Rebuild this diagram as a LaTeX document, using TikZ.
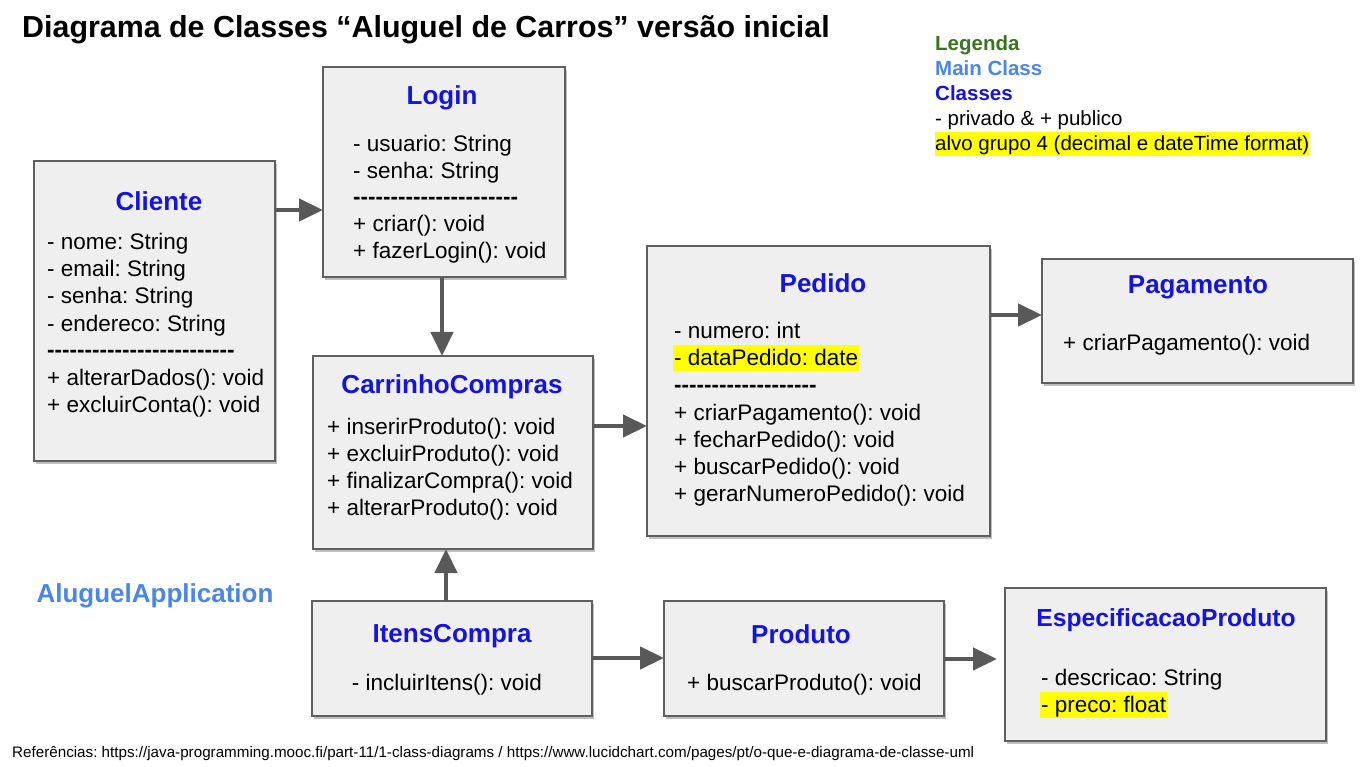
\documentclass[tikz,border=0pt]{standalone}
\usepackage{fontspec}
\setmainfont{Liberation Sans}[Ligatures=TeXOff]
\usetikzlibrary{arrows.meta,calc,shadows}
\definecolor{clsblue}{RGB}{20,20,222}
\definecolor{mainblue}{HTML}{4A86E8}
\definecolor{leggreen}{HTML}{38761D}
\definecolor{boxfill}{HTML}{EFEFEF}
\definecolor{boxline}{HTML}{5F5F5F}
\definecolor{arrgray}{HTML}{595959}
\definecolor{hl}{HTML}{FFFF00}
\newcommand\dsh[1]{\foreach\i in {1,...,#1}{\mbox{-}}}
\frenchspacing
\begin{document}
\frenchspacing
\begin{tikzpicture}[x=1pt,y=-1pt,
  every node/.append style={execute at begin node=\frenchspacing},
  cls/.style={draw=boxline,line width=1.3pt,fill=boxfill,inner sep=0pt,outer sep=0pt,anchor=north west,
    drop shadow={shadow xshift=2pt,shadow yshift=-3pt,fill=black!45,opacity=.55}},
  ttl/.style={anchor=base,inner sep=0pt,text=clsblue,font=\fontsize{26}{30}\selectfont\bfseries},
  txt/.style={anchor=base west,inner sep=0pt,font=\fontsize{22.5}{27}\selectfont},
  hlt/.style={txt,fill=hl,text height=20pt,text depth=6pt,inner xsep=1pt},
  leg/.style={anchor=base west,inner sep=0pt,font=\fontsize{20.5}{25}\selectfont},
  arr/.style={draw=arrgray,line width=4.3pt,-{Triangle[length=24pt,width=22pt]}}]
\useasboundingbox[fill=white] (0,0) rectangle (1363,767);

% title
\node[anchor=base west,inner sep=0pt,font=\fontsize{30.4}{34}\selectfont\bfseries] (title) at (22,38)
  {Diagrama de Classes “Aluguel de Carros” versão inicial};

% legend
\node[leg,text=leggreen,font=\fontsize{20.5}{25}\selectfont\bfseries] (lg1) at (935,51) {Legenda};
\node[leg,text=mainblue,font=\fontsize{20.5}{25}\selectfont\bfseries] (lg2) at (935,76) {Main Class};
\node[leg,text=clsblue,font=\fontsize{20.5}{25}\selectfont\bfseries] (lg3) at (935,101) {Classes};
\node[leg] (lg4) at (935,126) {- privado \& + publico};
\node[leg,fill=hl,text height=19pt,text depth=5pt] (lg5) at (935,151) {alvo grupo 4 (decimal e dateTime format)};

% boxes
\node[cls,minimum width=241pt,minimum height=300pt] (cli) at (34,161) {};
\node[cls,minimum width=242pt,minimum height=210pt] (log) at (323,67) {};
\node[cls,minimum width=280pt,minimum height=193pt] (car) at (313,356) {};
\node[cls,minimum width=343pt,minimum height=290pt] (ped) at (647,246) {};
\node[cls,minimum width=311pt,minimum height=124pt] (pag) at (1042,259) {};
\node[cls,minimum width=280pt,minimum height=115pt] (ite) at (312,601) {};
\node[cls,minimum width=280pt,minimum height=115pt] (pro) at (664,601) {};
\node[cls,minimum width=321pt,minimum height=153pt] (esp) at (1005,588) {};

% Cliente
\node[ttl] (cliT) at (159,211) {Cliente};
\node[txt] (cli1) at (47,250) {- nome: String};
\node[txt] (cli2) at (47,277) {- email: String};
\node[txt] (cli3) at (47,304) {- senha: String};
\node[txt] (cli4) at (47,331) {- endereco: String};
\node[txt] (cli5) at (47,358) {\bfseries\dsh{25}};
\node[txt] (cli6) at (47,385) {+ alterarDados(): void};
\node[txt] (cli7) at (47,412) {+ excluirConta(): void};

% Login
\node[ttl] (logT) at (442,105) {Login};
\node[txt] (log1) at (353,152) {- usuario: String};
\node[txt] (log2) at (353,179) {- senha: String};
\node[txt] (log3) at (353,205) {\bfseries\dsh{22}};
\node[txt] (log4) at (353,232) {+ criar(): void};
\node[txt] (log5) at (353,259) {+ fazerLogin(): void};

% CarrinhoCompras
\node[ttl] (carT) at (452,393) {CarrinhoCompras};
\node[txt] (car1) at (327,434) {+ inserirProduto(): void};
\node[txt] (car2) at (327,461) {+ excluirProduto(): void};
\node[txt] (car3) at (327,488) {+ finalizarCompra(): void};
\node[txt] (car4) at (327,515) {+ alterarProduto(): void};

% Pedido
\node[ttl] (pedT) at (823,293) {Pedido};
\node[txt] (ped1) at (674,338) {- numero: int};
\node[hlt] (ped2) at (673,365) {- dataPedido: date};
\node[txt] (ped3) at (674,392) {\bfseries\dsh{19}};
\node[txt] (ped4) at (674,420) {+ criarPagamento(): void};
\node[txt] (ped5) at (674,447) {+ fecharPedido(): void};
\node[txt] (ped6) at (674,474) {+ buscarPedido(): void};
\node[txt] (ped7) at (674,501) {+ gerarNumeroPedido(): void};

% Pagamento
\node[ttl] (pagT) at (1198,294) {Pagamento};
\node[txt] (pag1) at (1063,350) {+ criarPagamento(): void};

% ItensCompra
\node[ttl] (iteT) at (452,642) {ItensCompra};
\node[txt,anchor=base] (ite1) at (447,690) {- incluirItens(): void};

% Produto
\node[ttl] (proT) at (801,643) {Produto};
\node[txt] (pro1) at (687,690) {+ buscarProduto(): void};

% EspecificacaoProduto
\node[ttl,font=\fontsize{24.7}{29}\selectfont\bfseries] (espT) at (1166,626) {EspecificacaoProduto};
\node[txt] (esp1) at (1041,685) {- descricao: String};
\node[hlt] (esp2) at (1040,712) {- preco: float};

% main class label
\node[anchor=base,inner sep=0pt,text=mainblue,font=\fontsize{26}{30}\selectfont\bfseries] (app) at (155,602) {AluguelApplication};

% footer
\node[anchor=base west,inner sep=0pt,font=\fontsize{15.2}{17}\selectfont] (ref) at (12,757)
  {Referências: https://java-programming.mooc.fi/part-11/1-class-diagrams / https://www.lucidchart.com/pages/pt/o-que-e-diagrama-de-classe-uml};

% connectors
\draw[arr] ($(cli.north east)+(0,49)$) -- ($(log.north west)+(0,143)$);
\draw[arr] ($(log.south)+(-2,0)$) -- ($(log.south |- car.north)+(-2,0)$);
\draw[arr] ($(car.north east)+(0,70)$) -- ($(ped.north west)+(0,180)$);
\draw[arr] ($(ped.north east)+(0,69)$) -- ($(pag.north west)+(0,56)$);
\draw[arr] ($(ite.north)+(-6,0)$) -- ($(ite.north |- car.south)+(-6,0)$);
\draw[arr] ($(ite.north east)+(0,57)$) -- ($(pro.north west)+(0,57)$);
\draw[arr] ($(pro.north east)+(0,58)$) -- ($(esp.north west)+(-8,71)$);
\end{tikzpicture}
\end{document}
